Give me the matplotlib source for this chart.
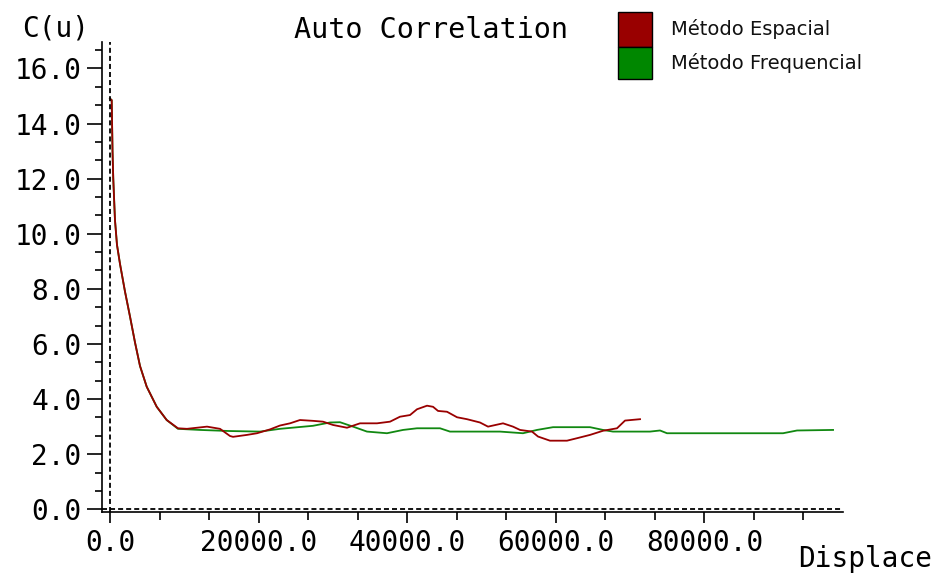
import matplotlib
matplotlib.use("Agg")
import matplotlib.pyplot as plt
from matplotlib.patches import Rectangle
from matplotlib.ticker import FixedLocator, FuncFormatter
import numpy as np

plt.rcParams["lines.scale_dashes"] = False

# values
esp_x = [0, 230, 340, 440, 670, 940, 1350, 2020, 2690, 3370, 4040, 4940, 6290, 7630,
         9150, 10360, 13060, 14810, 16150, 16560, 18440, 19790, 21540, 22880, 24230,
         25570, 27320, 28670, 30020, 31900, 33650, 35940, 37690, 39030, 40380, 41320,
         42670, 43480, 44150, 45360, 46710, 48050, 49800, 50880, 52900, 54240, 55190,
         56800, 57610, 59220, 61510, 62860, 64610, 66360, 68240, 69320, 71340]
esp_y = [14.9, 14.85, 13.0, 12.0, 10.5, 9.6, 8.9, 7.9, 7.0, 6.05, 5.2, 4.45, 3.72, 3.24,
         2.94, 2.92, 3.0, 2.92, 2.66, 2.63, 2.70, 2.76, 2.9, 3.04, 3.12,
         3.24, 3.21, 3.18, 3.06, 2.96, 3.12, 3.12, 3.18, 3.36, 3.42, 3.63,
         3.76, 3.72, 3.57, 3.54, 3.34, 3.27, 3.15, 3.0, 3.12, 3.0, 2.88,
         2.82, 2.64, 2.49, 2.49, 2.58, 2.70, 2.85, 2.94, 3.22, 3.27]

freq_x = [0, 230, 340, 440, 670, 940, 1350, 2020, 2690, 3370, 4040, 4940, 6290, 7630,
          9150, 12110, 16150, 20190, 22880, 27320, 29610, 30960, 32710, 34590, 37280,
          39440, 41320, 44420, 45760, 52490, 55590, 57470, 59630, 64610, 66360, 67700,
          72680, 74030, 74970, 90590, 92470, 97320]
freq_y = [14.9, 14.85, 13.0, 12.0, 10.5, 9.6, 8.9, 7.9, 7.0, 6.05, 5.2, 4.45, 3.72, 3.24,
          2.92, 2.88, 2.84, 2.82, 2.92, 3.03, 3.15, 3.16, 3.0, 2.82, 2.76,
          2.88, 2.94, 2.94, 2.82, 2.82, 2.76, 2.88, 2.98, 2.98, 2.88, 2.82,
          2.82, 2.86, 2.76, 2.76, 2.86, 2.88]

x_labels = [0, 20000, 40000, 60000, 80000]
y_labels = [0, 2, 4, 6, 8, 10, 12, 14, 16]

series_names = ["Método Espacial", "Método Frequencial"]
red = "#990000"
green = "#118811"

mono = "DejaVu Sans Mono"

fig = plt.figure(figsize=(9.39, 5.76), dpi=100)
ax = fig.add_axes([0.1083, 0.1106, 0.7898, 0.817])

ax.plot(freq_x, freq_y, color=green, lw=1.3)
ax.plot(esp_x, esp_y, color=red, lw=1.3)

ax.axhline(0, color="black", lw=1.3, linestyle=(0, (3.6, 2.2)))
ax.axvline(0, color="black", lw=1.3, linestyle=(0, (3.6, 2.2)))

ax.set_xlim(-1117, 98700)
ax.set_ylim(-0.109, 16.97)

for s in ["top", "right"]:
    ax.spines[s].set_visible(False)
for s in ["left", "bottom"]:
    ax.spines[s].set_linewidth(1.2)

ax.xaxis.set_major_locator(FixedLocator(x_labels))
ax.xaxis.set_minor_locator(FixedLocator(np.arange(0, 95000, 20000 / 3)))
ax.yaxis.set_major_locator(FixedLocator(y_labels))
ax.yaxis.set_minor_locator(FixedLocator(np.arange(0, 16.8, 2 / 3)))
fmt = FuncFormatter(lambda v, p: f"{v:.1f}")
ax.xaxis.set_major_formatter(fmt)
ax.yaxis.set_major_formatter(fmt)

ax.tick_params(axis="y", which="major", length=10.8, width=1.2, pad=3.6, labelsize=20)
ax.tick_params(axis="y", which="minor", length=5, width=1.2)
ax.tick_params(axis="x", which="major", length=7.9, width=1.2, pad=4, labelsize=20)
ax.tick_params(axis="x", which="minor", length=5.8, width=1.2)
for lab in ax.get_xticklabels() + ax.get_yticklabels():
    lab.set_fontfamily(mono)

fig.text(0.459, 0.934, "Auto Correlation", ha="center", va="baseline",
         fontsize=20.5, family=mono)
fig.text(0.0234, 0.936, "C(u)", ha="left", va="baseline", fontsize=20, family=mono)
fig.text(0.850, 0.0151, "Displace", ha="left", va="baseline", fontsize=20, family=mono)

# legend
fig.patches.append(Rectangle((0.6585, 0.9189), 0.0356, 0.0608, transform=fig.transFigure,
                             facecolor=red, edgecolor="black", lw=1))
fig.patches.append(Rectangle((0.6585, 0.8628), 0.0356, 0.0561, transform=fig.transFigure,
                             facecolor="#008700", edgecolor="black", lw=1))
fig.text(0.7146, 0.940, series_names[0], ha="left", va="baseline", fontsize=14,
         family="DejaVu Sans", color="#111111")
fig.text(0.7146, 0.881, series_names[1], ha="left", va="baseline", fontsize=14,
         family="DejaVu Sans", color="#111111")

fig.savefig("out.png", dpi=100)
